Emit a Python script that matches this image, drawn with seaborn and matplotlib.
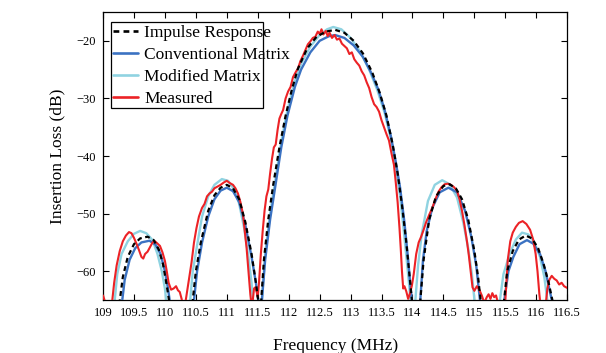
import matplotlib
matplotlib.use("Agg")
import matplotlib.pyplot as plt
from matplotlib.patches import Rectangle
import seaborn as sns
import pandas as pd

# values (MHz, dB); -80 marks a dip below the axis
imp_f = [109.0, 109.26, 109.32, 109.4, 109.5, 109.6, 109.72, 109.82, 109.9, 109.97, 110.03, 110.08, 110.25,
         110.44, 110.5, 110.58, 110.7, 110.8, 110.9, 111.0, 111.1, 111.2, 111.3, 111.4, 111.47, 111.52, 111.535,
         111.55, 111.6, 111.67, 111.75, 111.85, 111.95, 112.05, 112.15, 112.3, 112.45, 112.6, 112.75, 112.9,
         113.05, 113.2, 113.35, 113.47, 113.58, 113.68, 113.76, 113.83, 113.9, 113.95, 114.0, 114.06,
         114.12, 114.18, 114.27, 114.38, 114.5, 114.6, 114.7, 114.8, 114.9, 115.0, 115.06, 115.11, 115.3,
         115.47, 115.53, 115.62, 115.72, 115.83, 115.93, 116.03, 116.12, 116.2, 116.28, 116.35]
imp_db = [-80, -66, -61, -57.5, -55.3, -54.3, -54.0, -54.6, -56.2, -58.8, -62.5, -66, -80,
          -66, -60, -55, -49.5, -46.8, -45.5, -45.0, -45.6, -47.5, -51.5, -57, -62, -66, -80,
          -66, -58, -51, -45, -38.5, -33, -28.5, -24.8, -21.3, -19.3, -18.4, -18.1, -18.6,
          -20, -22.2, -25.5, -29, -33, -38, -43, -48.5, -55, -60.5, -66, -80,
          -66, -58, -51, -47, -45.2, -44.9, -45.6, -47.5, -51, -56.5, -61, -66, -80,
          -66, -60, -56.5, -54.5, -53.8, -54.3, -56, -58.8, -62, -66, -80]

conv_f = [109.0, 109.3, 109.35, 109.43, 109.52, 109.62, 109.75, 109.85, 109.93, 110.0, 110.05, 110.09, 110.25,
          110.46, 110.52, 110.6, 110.7, 110.8, 110.9, 111.0, 111.1, 111.2, 111.3, 111.4, 111.47, 111.52, 111.535,
          111.56, 111.62, 111.7, 111.78, 111.88, 111.98, 112.1, 112.2, 112.35, 112.5, 112.65, 112.75, 112.9,
          113.05, 113.2, 113.33, 113.45, 113.55, 113.65, 113.73, 113.8, 113.87, 113.93, 113.97, 114.0, 114.06,
          114.12, 114.17, 114.23, 114.32, 114.44, 114.58, 114.72, 114.85, 114.95, 115.03, 115.1, 115.3,
          115.47, 115.55, 115.63, 115.73, 115.85, 115.95, 116.06, 116.15, 116.22, 116.27, 116.35]
conv_db = [-80, -66, -61.5, -58, -56, -55, -54.7, -55.4, -57, -60, -63, -66, -80,
           -66, -60, -55, -50.5, -47.5, -46, -45.5, -46.1, -48, -52, -57.5, -62, -66, -80,
           -66, -58, -51, -45.5, -38.5, -33, -28, -25, -22, -20, -19.2, -19.0, -19.5,
           -20.8, -22.8, -25.5, -28.5, -32, -36.5, -41, -45.5, -51.5, -58, -63, -66, -80,
           -66, -58, -53, -49, -46.3, -45.5, -46.3, -49.5, -54, -59, -66, -80,
           -66, -60, -57.5, -55.3, -54.6, -55.2, -57, -60, -63.5, -66, -80]

mod_f = [109.0, 109.18, 109.23, 109.3, 109.4, 109.5, 109.6, 109.7, 109.8, 109.88, 109.95, 110.0, 110.03, 110.2,
         110.4, 110.45, 110.52, 110.6, 110.7, 110.8, 110.92, 111.02, 111.12, 111.2, 111.28, 111.35, 111.4, 111.43,
         111.5, 111.56, 111.62, 111.7, 111.78, 111.88, 111.98, 112.1, 112.2, 112.35, 112.5, 112.62, 112.72,
         112.85, 113.0, 113.15, 113.3, 113.43, 113.55, 113.65, 113.73, 113.8, 113.86, 113.92, 113.96, 113.98,
         114.01, 114.04, 114.09, 114.15, 114.25, 114.36, 114.48, 114.6, 114.72, 114.82, 114.9, 114.96, 115.01,
         115.2, 115.4, 115.47, 115.57, 115.67, 115.77, 115.87, 115.97, 116.06, 116.13, 116.19, 116.3]
mod_db = [-80, -66, -60.5, -57, -54.8, -53.5, -53.0, -53.4, -54.6, -57, -60, -63, -66, -80,
          -66, -60, -55.5, -50.5, -47, -45, -44.0, -44.3, -45.8, -48.3, -52.5, -57.5, -62, -66,
          -80, -66, -57, -50, -44.5, -37.5, -32, -27, -24, -21, -19, -18, -17.6,
          -18, -19.5, -21.8, -25, -28.5, -32.5, -37, -42, -47, -53, -59.5, -64, -66,
          -80, -66, -59, -53.5, -47.8, -45, -44.2, -44.9, -47.2, -51.5, -56, -60.5, -66,
          -80, -66, -60.5, -57, -54.5, -53.3, -53.6, -55, -57.5, -61, -66, -80]

meas_f = [109.0, 109.03, 109.08, 109.14, 109.18, 109.22, 109.27, 109.32, 109.37, 109.42, 109.46, 109.5, 109.54,
          109.58, 109.62, 109.65, 109.68, 109.72, 109.76, 109.8, 109.84, 109.88, 109.92, 109.96, 110.0, 110.03,
          110.06, 110.1, 110.14, 110.18, 110.21, 110.24, 110.27, 110.3, 110.33, 110.38, 110.43, 110.47, 110.51,
          110.55, 110.6, 110.64, 110.68, 110.72, 110.76, 110.8, 110.85, 110.9, 110.95, 111.0, 111.05, 111.1,
          111.14, 111.18, 111.22, 111.26, 111.29, 111.32, 111.35, 111.38, 111.4, 111.42, 111.44, 111.46, 111.48,
          111.5, 111.52, 111.55, 111.58, 111.61, 111.64, 111.67, 111.7, 111.73, 111.76, 111.79, 111.82, 111.85,
          111.88, 111.91, 111.95, 111.99, 112.03, 112.07, 112.11, 112.15, 112.19, 112.23, 112.27, 112.31, 112.35,
          112.39, 112.43, 112.47, 112.5, 112.53, 112.56, 112.6, 112.63, 112.66, 112.7, 112.74, 112.78, 112.82,
          112.86, 112.9, 112.94, 112.98, 113.02, 113.06, 113.1, 113.14, 113.18, 113.22, 113.26, 113.3, 113.34,
          113.38, 113.42, 113.46, 113.5, 113.54, 113.58, 113.62, 113.66, 113.7, 113.73, 113.76, 113.79, 113.81,
          113.83, 113.85, 113.87, 113.9, 113.93, 113.96, 113.99, 114.02, 114.06, 114.1, 114.14, 114.18, 114.22,
          114.27, 114.32, 114.37, 114.42, 114.47, 114.52, 114.57, 114.62, 114.67, 114.72, 114.76, 114.8, 114.84,
          114.88, 114.91, 114.94, 114.97, 115.0, 115.04, 115.08, 115.12, 115.16, 115.2, 115.23, 115.26, 115.29,
          115.32, 115.35, 115.38, 115.42, 115.47, 115.5, 115.54, 115.58, 115.62, 115.67, 115.72, 115.78, 115.84,
          115.9, 115.95, 115.99, 116.02, 116.05, 116.07, 116.1, 116.15, 116.18, 116.21, 116.25, 116.29, 116.33,
          116.37, 116.41, 116.45, 116.5]
meas_db = [-64.2, -65.2, -80, -66, -62, -59, -56.5, -54.8, -53.8, -53.2, -53.4, -54.2, -55.2,
           -56.3, -57.5, -57.8, -57.0, -56.6, -55.8, -55.0, -54.8, -55.2, -55.6, -56.7, -58.2, -60,
           -62, -63.2, -63.0, -62.6, -63.3, -63.6, -64.8, -66.5, -65.5, -62, -58.5, -55, -52.5,
           -50.5, -49, -48.3, -47, -46.5, -46.2, -45.6, -45.3, -45.0, -44.6, -44.3, -44.7, -45.0,
           -45.6, -46.5, -48, -50, -53, -56, -60, -64, -66, -65, -63, -62.8, -63.5,
           -64.5, -62, -57, -53, -49.5, -47, -45.8, -43, -40.5, -38.5, -38, -35.5, -33.5,
           -32.7, -32.0, -30, -28.8, -28, -26.3, -25.5, -24.8, -23.5, -22.6, -21.6, -20.6, -20.1,
           -19.5, -19.3, -18.4, -18.8, -18.0, -18.9, -18.3, -19.2, -18.6, -19.5, -19.0, -19.8, -19.6,
           -20.5, -20.9, -21.3, -22.3, -22.0, -23.2, -23.8, -24.3, -25.3, -26.0, -27.2, -28.2, -29.8,
           -31.0, -31.5, -32.3, -33.8, -35, -36.2, -37.3, -39.5, -41.5, -44.6, -48, -52.5, -56,
           -60, -63, -62.6, -63.5, -64.8, -63.8, -62.5, -60.5, -57, -55, -54, -52.8, -51.5,
           -50.2, -49, -47.5, -46.2, -45.4, -44.9, -44.8, -45.0, -45.4, -46.0, -47.5, -49.5, -52,
           -54.8, -57.2, -60, -62.8, -63.4, -62.6, -63.2, -64.2, -65.5, -64.5, -64, -64.8, -63.8,
           -64.5, -64.2, -65.5, -66, -66.5, -65, -58, -54.8, -53.3, -52.3, -51.6, -51.3, -51.8,
           -52.8, -54.5, -57, -60, -64, -66, -80, -66, -63, -61.5, -60.8, -61.3, -61.6,
           -62.3, -62.0, -62.6, -62.9]

series_names = ["Impulse Response", "Conventional Matrix", "Modified Matrix", "Measured"]
xtick_vals = [109, 109.5, 110, 110.5, 111, 111.5, 112, 112.5, 113, 113.5, 114, 114.5, 115, 115.5, 116, 116.5]
xtick_labels = ["109", "109.5", "110", "110.5", "111", "111.5", "112", "112.5", "113",
                "113.5", "114", "114.5", "115", "115.5", "116", "116.5"]
ytick_vals = [-20, -30, -40, -50, -60]

df = pd.concat([
    pd.DataFrame({"f": imp_f, "db": imp_db, "s": series_names[0]}),
    pd.DataFrame({"f": conv_f, "db": conv_db, "s": series_names[1]}),
    pd.DataFrame({"f": mod_f, "db": mod_db, "s": series_names[2]}),
    pd.DataFrame({"f": meas_f, "db": meas_db, "s": series_names[3]}),
], ignore_index=True)

sns.set_theme(style="ticks")
plt.rcParams['font.family'] = ['Liberation Serif', 'DejaVu Serif']
plt.rcParams['text.color'] = 'black'
plt.rcParams['axes.labelcolor'] = 'black'

colors = {"Impulse Response": "black", "Conventional Matrix": "#3b72c2",
          "Modified Matrix": "#8fd3e1", "Measured": "#ec2226"}
dash = (0, (2.2, 1.6))

fig = plt.figure(figsize=(6.06, 3.53), dpi=100)
ax = fig.add_axes([0.170, 0.150, 0.766, 0.816])

# draw order: cyan, blue, red, then dashed black on top
for name, lw, z in [("Modified Matrix", 1.7, 2), ("Conventional Matrix", 1.7, 3),
                    ("Measured", 1.5, 4), ("Impulse Response", 1.6, 5)]:
    sub = df[df["s"] == name]
    sns.lineplot(data=sub, x="f", y="db", color=colors[name], lw=lw, sort=False,
                 estimator=None, ax=ax, zorder=z,
                 linestyle=dash if name == "Impulse Response" else "-")

ax.set_xlim(109, 116.5)
ax.set_ylim(-65, -15)
ax.set_xticks(xtick_vals)
ax.set_xticklabels(xtick_labels)
ax.set_yticks(ytick_vals)
ax.tick_params(direction="in", top=True, right=True, length=4, width=0.8,
               labelsize=9, colors="black", pad=5)
for sp in ax.spines.values():
    sp.set_color("black")
    sp.set_linewidth(0.9)
ax.set_xlabel("Frequency (MHz)", fontsize=12.5, labelpad=14)
ax.set_ylabel("Insertion Loss (dB)", fontsize=12.5, labelpad=8)

# legend text runs past its box in the original, so box drawn separately
handles = [plt.Line2D([], [], color=colors[n], lw=1.9,
                      linestyle=dash if n == "Impulse Response" else "-")
           for n in series_names]
leg = ax.legend(handles, series_names, loc="upper left", bbox_to_anchor=(0.0216, 0.955),
                fontsize=12.5, frameon=False, handlelength=1.45, handletextpad=0.35,
                labelspacing=0.33, borderpad=0, borderaxespad=0)
leg.set_zorder(10)
ax.add_patch(Rectangle((0.0172, 0.667), 0.328, 0.298, transform=ax.transAxes,
                       facecolor="white", edgecolor="black", lw=0.9, zorder=9))

fig.savefig("out.png", dpi=100)
